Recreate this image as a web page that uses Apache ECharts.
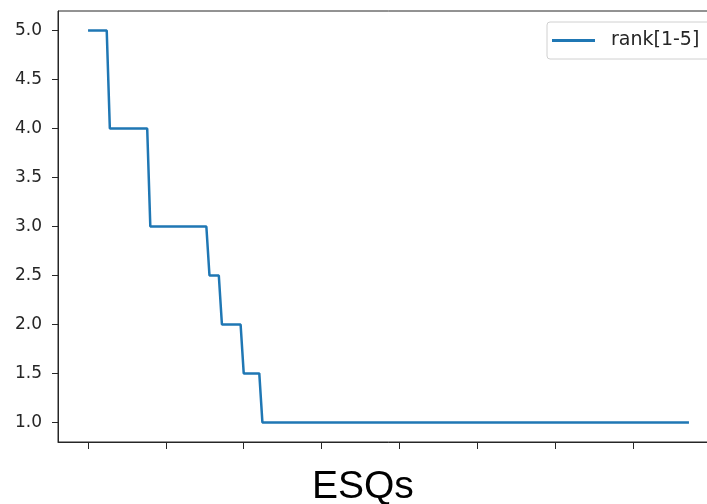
<!DOCTYPE html>
<html>
<head>
<meta charset="utf-8">
<script src="https://cdn.jsdelivr.net/npm/echarts@6/dist/echarts.min.js"></script>
<style>
  html, body { margin: 0; padding: 0; background: #fff; overflow: hidden; }
  /* the plot area runs a little past the right edge of the window, as in the original */
  #chart { width: 720px; height: 504px; }
</style>
</head>
<body>
<div id="chart"></div>
<script>
// ESQ index at each corner of the step line, and the rank there
const esqIndex = [0, 6, 7, 19, 20, 38, 39, 42, 43, 49, 50, 55, 56, 193];
const rankValues = [5, 5, 4, 4, 3, 3, 2.5, 2.5, 2, 2, 1.5, 1.5, 1, 1];
const yTicks = [1.0, 1.5, 2.0, 2.5, 3.0, 3.5, 4.0, 4.5, 5.0];
const xTicks = [0, 25, 50, 75, 100, 125, 150, 175, 200];
const seriesName = "rank[1-5]";
const xName = "ESQs";

const axisColor = "#262626";
const points = esqIndex.map((x, i) => [x, rankValues[i]]);

const chart = echarts.init(document.getElementById("chart"));
chart.setOption({
  animation: false,
  title: {
    text: xName,
    left: 312,
    top: 468,
    padding: 0,
    textStyle: { fontFamily: "Liberation Sans", fontSize: 39, fontWeight: "normal", color: "#000" }
  },
  legend: {
    data: [seriesName],
    left: 547,
    top: 22,
    padding: [9, 20, 9, 5],
    itemWidth: 43,
    itemHeight: 3,
    icon: "rect",
    borderColor: "#d0d0d0",
    borderWidth: 1,
    borderRadius: 3,
    textStyle: { fontFamily: "DejaVu Sans", fontSize: 19, color: "#262626", padding: [0, 0, 0, 11] }
  },
  grid: {
    left: 58, right: 1, top: 11, bottom: 62,
    show: true, borderColor: axisColor, borderWidth: 1
  },
  xAxis: {
    type: "value",
    min: -9.65,
    max: 202.65,
    axisLine: { show: true, onZero: false, lineStyle: { color: axisColor, width: 1 } },
    axisTick: { show: true, length: 7, customValues: xTicks, lineStyle: { color: axisColor } },
    axisLabel: { show: false },
    splitLine: { show: false }
  },
  yAxis: {
    type: "value",
    min: 0.8,
    max: 5.2,
    axisLine: { show: true, onZero: false, lineStyle: { color: axisColor, width: 1 } },
    axisTick: { show: true, length: 6, customValues: yTicks, lineStyle: { color: axisColor } },
    axisLabel: {
      customValues: yTicks,
      margin: 16,
      fontFamily: "DejaVu Sans",
      fontSize: 17,
      color: "#262626",
      formatter: v => v.toFixed(1)
    },
    splitLine: { show: false }
  },
  series: [{
    name: seriesName,
    type: "line",
    data: points,
    showSymbol: false,
    lineStyle: { color: "#1f77b4", width: 2.5 },
    itemStyle: { color: "#1f77b4" }
  }]
});
</script>
</body>
</html>
